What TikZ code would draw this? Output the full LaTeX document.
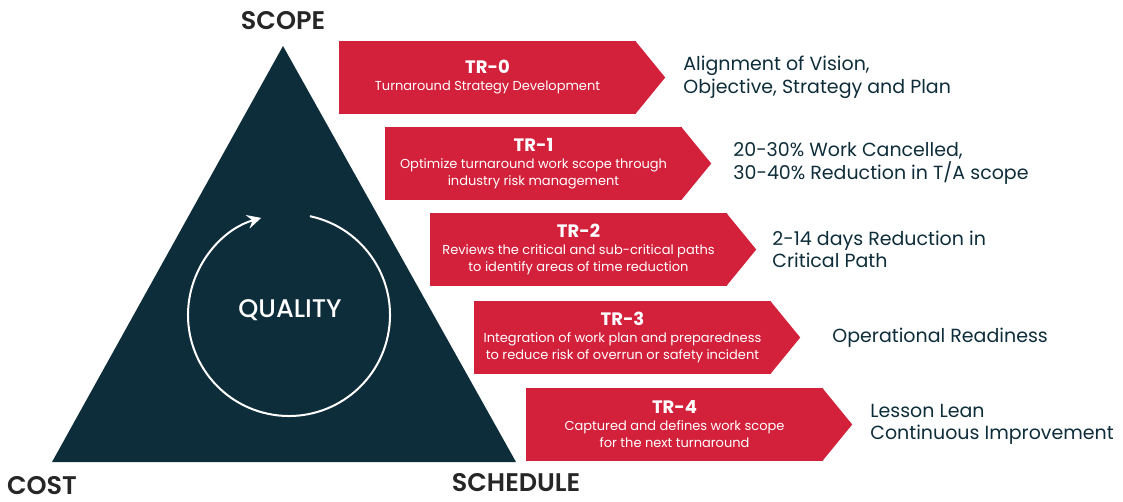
\documentclass[tikz,border=0pt]{standalone}
\usepackage{fontspec}
\setmainfont{Poppins}
\newfontfamily\semifont{Poppins SemiBold}
\newfontfamily\medfont{Poppins Medium}
\usetikzlibrary{arrows.meta,positioning}
\definecolor{trred}{HTML}{D3203B}
\definecolor{trnavy}{HTML}{0E2D3A}
\newcommand\trtitle{\bfseries\fontsize{18}{20}\selectfont}

\begin{document}
\begin{tikzpicture}[x=1pt,y=-1pt,>={Stealth[length=14pt,width=14pt,inset=5pt]},
    trbox/.style={fill=trred,text=white,minimum width=297pt,minimum height=73pt,
      inner sep=0pt,align=center,font=\fontsize{13}{17}\selectfont},
    result/.style={text=trnavy,anchor=west,inner sep=0pt,align=left,
      font=\fontsize{19}{22.5}\selectfont},
    corner/.style={text=black!85,inner sep=1pt,font=\semifont\fontsize{25.5}{27}\selectfont}]

    \useasboundingbox (0,0) rectangle (1123,501);

    % triangle
    \coordinate (scope) at (283,46);
    \coordinate (cost) at (52,462);
    \coordinate (sched) at (516,462);
    \fill[trnavy] (scope) -- (sched) -- (cost) -- cycle;
    \node[corner] (lscope) at (283,21) {SCOPE};
    \node[corner] (lcost) at (42,486) {COST};
    \node[corner] (lsched) at (516,483) {SCHEDULE};

    % quality loop
    \coordinate (qc) at (289,315);
    \node[text=white,font=\medfont\fontsize{25.5}{27}\selectfont] (quality) at (290,310) {QUALITY};
    \draw[white,line width=2pt,->] ([shift={(-78:101)}]qc) arc[start angle=-78,end angle=254,radius=101];

    % steps
    \foreach \i/\x/\y/\gap/\sub/\res in {
      0/339/41/18/{Turnaround Strategy Development}/{Alignment of Vision,\\Objective, Strategy and Plan},
      1/385/127/22/{Optimize turnaround work scope through\\industry risk management}/{20-30\% Work Cancelled,\\30-40\% Reduction in T/A scope},
      2/430/213/16/{Reviews the critical and sub-critical paths\\to identify areas of time reduction}/{2-14 days Reduction in\\Critical Path},
      3/474/301/32/{Integration of work plan and preparedness\\to reduce risk of overrun or safety incident}/{Operational Readiness},
      4/526/388/18/{Captured and defines work scope\\for the next turnaround}/{Lesson Lean\\Continuous Improvement}}{
      \node[trbox] (tr\i) at (\x+148.5,\y+36.5) {{\trtitle TR-\i}\\\sub};
      \coordinate (tip\i) at ([xshift=29pt]tr\i.east);
      \fill[trred] ([xshift=-1pt]tr\i.north east) -- (tip\i) -- ([xshift=-1pt]tr\i.south east) -- cycle;
      \node[result,right=\gap pt of tip\i] (res\i) {\res};
    }
\end{tikzpicture}
\end{document}
